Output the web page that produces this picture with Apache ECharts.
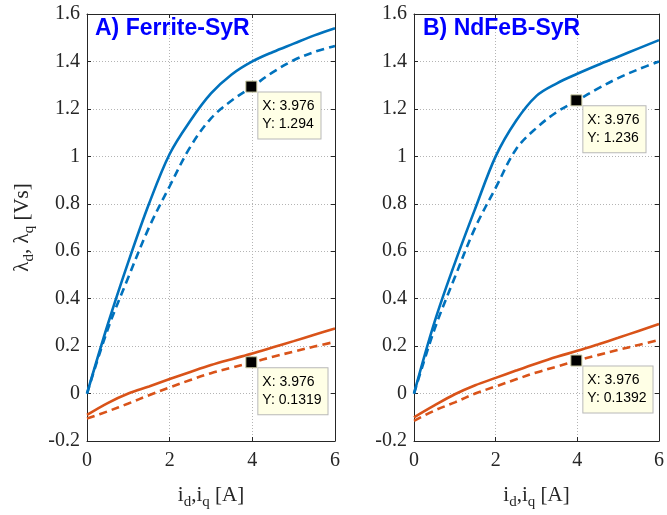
<!DOCTYPE html>
<html>
<head>
<meta charset="utf-8">
<script src="https://cdn.jsdelivr.net/npm/echarts@6/dist/echarts.min.js"></script>
<style>html,body{margin:0;padding:0;background:#fff}#c{width:667px;height:515px}</style>
</head>
<body>
<div id="c"></div>
<script>
// ---- data ----
var currents = [0, 0.5, 1, 1.5, 2, 2.5, 3, 3.5, 4, 4.5, 5, 5.5, 6];
var ferriteLdSolid  = [0, 0.29, 0.555, 0.80, 1.01, 1.15, 1.265, 1.345, 1.40, 1.44, 1.475, 1.51, 1.54];
var ferriteLdDashed = [0, 0.27, 0.49, 0.70, 0.874, 1.04, 1.16, 1.235, 1.294, 1.355, 1.405, 1.44, 1.465];
var ferriteLqSolid  = [-0.09, -0.04, 0.0, 0.03, 0.061, 0.091, 0.12, 0.145, 0.169, 0.195, 0.221, 0.248, 0.274];
var ferriteLqDashed = [-0.105, -0.075, -0.042, -0.007, 0.026, 0.057, 0.086, 0.109, 0.1319, 0.155, 0.177, 0.198, 0.218];
var ndfebLdSolid  = [0, 0.30, 0.55, 0.78, 1.0, 1.15, 1.255, 1.308, 1.348, 1.385, 1.42, 1.455, 1.49];
var ndfebLdDashed = [0, 0.27, 0.49, 0.70, 0.867, 1.03, 1.12, 1.187, 1.236, 1.285, 1.33, 1.367, 1.40];
var ndfebLqSolid  = [-0.10, -0.05, -0.003, 0.035, 0.066, 0.097, 0.127, 0.155, 0.18, 0.207, 0.235, 0.264, 0.293];
var ndfebLqDashed = [-0.115, -0.072, -0.037, 0.0, 0.03, 0.06, 0.089, 0.114, 0.1392, 0.162, 0.184, 0.205, 0.226];
var tipX = 3.976;
var ferriteTips = [1.294, 0.1319];
var ndfebTips = [1.236, 0.1392];
var panelTitles = ['A) Ferrite-SyR', 'B) NdFeB-SyR'];
var xTicks = {min: 0, max: 6, interval: 2};
var yTicks = {min: -0.2, max: 1.6, interval: 0.2};

var blue = '#0072BD', orange = '#D95319', axisCol = '#262626';
var serif = '"Liberation Serif","Times New Roman",serif';
var sans = '"Liberation Sans",Arial,sans-serif';

var grids = [
  {left: 87, top: 14, width: 248, height: 429},
  {left: 414, top: 14, width: 248, height: 429}
];

var nameRich = {
  m: {fontFamily: serif, fontSize: 21, color: axisCol, lineHeight: 22, verticalAlign: 'top'},
  s: {fontFamily: serif, fontSize: 15, color: axisCol, lineHeight: 16, padding: [10, 0, 0, 0], verticalAlign: 'top'}
};

function xAx(gi, pos, main) {
  return {
    type: 'value', gridIndex: gi, position: pos,
    min: xTicks.min, max: xTicks.max, interval: xTicks.interval,
    axisLine: {show: true, onZero: false, lineStyle: {color: axisCol, width: 1}},
    axisTick: {show: true, inside: true, length: 4, lineStyle: {color: axisCol}},
    axisLabel: {show: main, color: axisCol, fontFamily: serif, fontSize: 20, margin: 10},
    splitLine: {show: main, lineStyle: {color: '#b4b4b4', type: [1, 2], width: 1}},
    name: main ? '{m|i}{s|d}{m|,i}{s|q}{m| [A]}' : '',
    nameLocation: 'middle', nameGap: 44,
    nameTextStyle: {color: axisCol, fontFamily: serif, fontSize: 20, rich: nameRich}
  };
}
function yAx(gi, pos, main, named) {
  return {
    type: 'value', gridIndex: gi, position: pos,
    min: yTicks.min, max: yTicks.max, interval: yTicks.interval,
    axisLine: {show: true, onZero: false, lineStyle: {color: axisCol, width: 1}},
    axisTick: {show: true, inside: true, length: 4, lineStyle: {color: axisCol}},
    axisLabel: {show: main, color: axisCol, fontFamily: serif, fontSize: 20, margin: 7,
      formatter: function (v) { return String(Math.round(v * 10) / 10); }},
    splitLine: {show: main, lineStyle: {color: '#b4b4b4', type: [1, 2], width: 1}},
    name: named ? '{m|λ}{s|d}{m|, λ}{s|q}{m| [Vs]}' : '',
    nameLocation: 'middle', nameGap: 53, nameRotate: 90,
    nameTextStyle: {color: axisCol, fontFamily: serif, fontSize: 20, rich: nameRich}
  };
}

function pairs(ys) { return currents.map(function (x, i) { return [x, ys[i]]; }); }
function line(gi, ys, color, dashed) {
  return {
    type: 'line', xAxisIndex: gi, yAxisIndex: gi, data: pairs(ys),
    showSymbol: false, smooth: 0.35, silent: true, z: 2,
    lineStyle: {color: color, width: 2.6, type: dashed ? [8, 5] : 'solid'}
  };
}
function tip(gi, y) {
  return {
    type: 'scatter', xAxisIndex: gi, yAxisIndex: gi, data: [[tipX, y]],
    symbol: 'rect', symbolSize: 11, z: 5, silent: true,
    itemStyle: {color: '#000', borderColor: '#c8c8a0', borderWidth: 1, opacity: 1},
    label: {
      show: true, position: [13, 12],
      formatter: 'X: ' + tipX + '\nY: ' + y,
      fontFamily: sans, fontSize: 14, lineHeight: 18, color: '#000',
      backgroundColor: '#ffffe6', borderColor: '#b8b8b8', borderWidth: 1,
      padding: [5, 6, 5, 4]
    }
  };
}

var titleStyle = {color: '#0000ff', fontFamily: sans, fontWeight: 'bold', fontSize: 23};
var option = {
  backgroundColor: '#fff',
  animation: false,
  grid: grids,
  title: [
    {text: panelTitles[0], left: 90, top: 12, textStyle: titleStyle},
    {text: panelTitles[1], left: 418, top: 12, textStyle: titleStyle}
  ],
  xAxis: [xAx(0, 'bottom', true), xAx(1, 'bottom', true), xAx(0, 'top', false), xAx(1, 'top', false)],
  yAxis: [yAx(0, 'left', true, true), yAx(1, 'left', true, false), yAx(0, 'right', false, false), yAx(1, 'right', false, false)],
  series: [
    line(0, ferriteLdSolid, blue, false), line(0, ferriteLdDashed, blue, true),
    line(0, ferriteLqSolid, orange, false), line(0, ferriteLqDashed, orange, true),
    line(1, ndfebLdSolid, blue, false), line(1, ndfebLdDashed, blue, true),
    line(1, ndfebLqSolid, orange, false), line(1, ndfebLqDashed, orange, true),
    tip(0, ferriteTips[0]), tip(0, ferriteTips[1]),
    tip(1, ndfebTips[0]), tip(1, ndfebTips[1])
  ]
};
var chart = echarts.init(document.getElementById('c'), null, {renderer: 'canvas'});
chart.setOption(option);
</script>
</body>
</html>
